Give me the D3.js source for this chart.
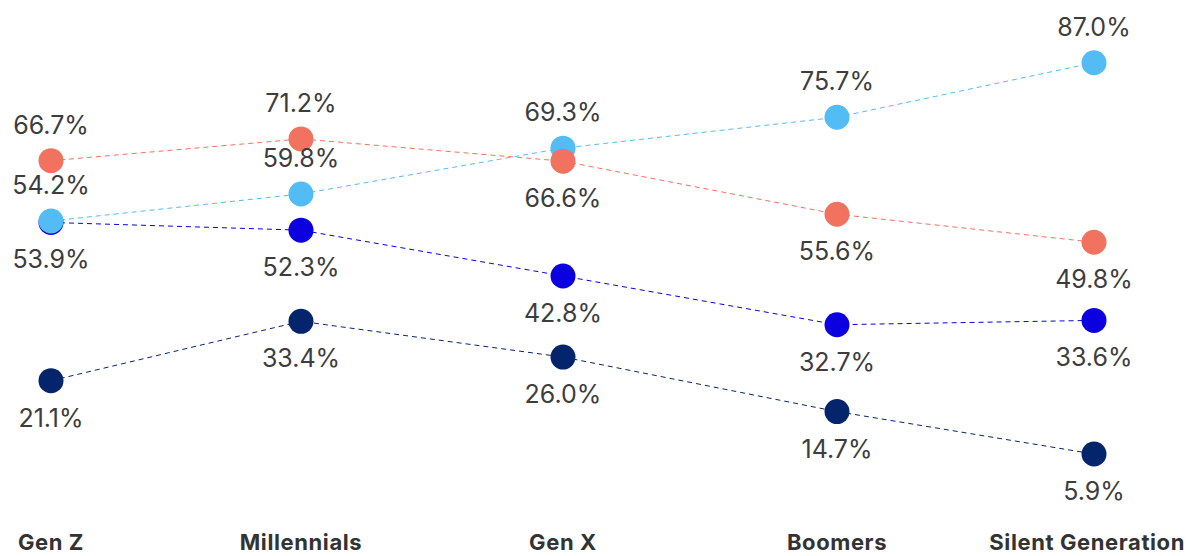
<!DOCTYPE html>
<html>
<head>
<meta charset="utf-8">
<script src="https://cdn.jsdelivr.net/npm/d3@7"></script>
<style>
  html, body { margin: 0; padding: 0; background: #fff; }
  svg { display: block; }
</style>
</head>
<body>
<svg id="chart" width="1189" height="556"></svg>
<script>
// Generations along the x axis
const generations = ["Gen Z", "Millennials", "Gen X", "Boomers", "Silent Generation"];

// Share (%) per generation for each series
const seriesLightBlue = [54.2, 59.8, 69.3, 75.7, 87.0];
const seriesCoral     = [66.7, 71.2, 66.6, 55.6, 49.8];
const seriesBlue      = [53.9, 52.3, 42.8, 32.7, 33.6];
const seriesNavy      = [21.1, 33.4, 26.0, 14.7, 5.9];

// Where each series puts its value labels ("above" or "below" the dot)
const labelSideLightBlue = ["above", "above", "above", "above", "above"];
const labelSideCoral     = ["above", "above", "below", "below", "below"];
const labelSideBlue      = ["below", "below", "below", "below", "below"];
const labelSideNavy      = ["below", "below", "below", "below", "below"];

// Drawn back to front
const series = [
  { values: seriesNavy,      sides: labelSideNavy,      color: "#04256b" },
  { values: seriesBlue,      sides: labelSideBlue,      color: "#0c00e0" },
  { values: seriesLightBlue, sides: labelSideLightBlue, color: "#53bcf4" },
  { values: seriesCoral,     sides: labelSideCoral,     color: "#f0725f" }
];

const svg = d3.select("#chart");

// Column centres for each generation
const x = d3.scaleOrdinal().domain(generations).range([51, 301, 563, 837, 1094]);
const y = d3.scaleLinear().domain([0, 100]).range([482.5, 0]);

const line = d3.line()
  .x((d, i) => x(generations[i]))
  .y(d => y(d));

// Dashed connecting lines
const gLines = svg.append("g");
series.forEach(s => {
  gLines.append("path")
    .datum(s.values)
    .attr("d", line)
    .attr("fill", "none")
    .attr("stroke", s.color)
    .attr("stroke-width", 1)
    .attr("stroke-dasharray", "5,4");
});

// Dots
const gDots = svg.append("g");
series.forEach(s => {
  gDots.selectAll(null)
    .data(s.values)
    .join("circle")
    .attr("cx", (d, i) => x(generations[i]))
    .attr("cy", d => y(d))
    .attr("r", 12.5)
    .attr("fill", s.color);
});

// Value labels
const gLabels = svg.append("g")
  .attr("font-family", "Inter, 'Noto Sans', sans-serif")
  .attr("font-size", 25)
  .attr("fill", "#3d3d3d")
  .attr("text-anchor", "middle");
series.forEach(s => {
  gLabels.selectAll(null)
    .data(s.values)
    .join("text")
    .attr("x", (d, i) => x(generations[i]))
    .attr("y", (d, i) => y(d) + (s.sides[i] === "above" ? -27 : 46))
    .text(d => d.toFixed(1) + "%");
});

// Category labels along the bottom
svg.append("g")
  .attr("font-family", "Inter, 'Noto Sans', sans-serif")
  .attr("font-size", 22)
  .attr("font-weight", 700)
  .attr("letter-spacing", 0.6)
  .attr("fill", "#333")
  .selectAll("text")
  .data(generations)
  .join("text")
  .attr("y", 550)
  .attr("x", (d, i) => i === generations.length - 1 ? 1185 : x(d))
  .attr("text-anchor", (d, i) => i === generations.length - 1 ? "end" : "middle")
  .text(d => d);
</script>
</body>
</html>
